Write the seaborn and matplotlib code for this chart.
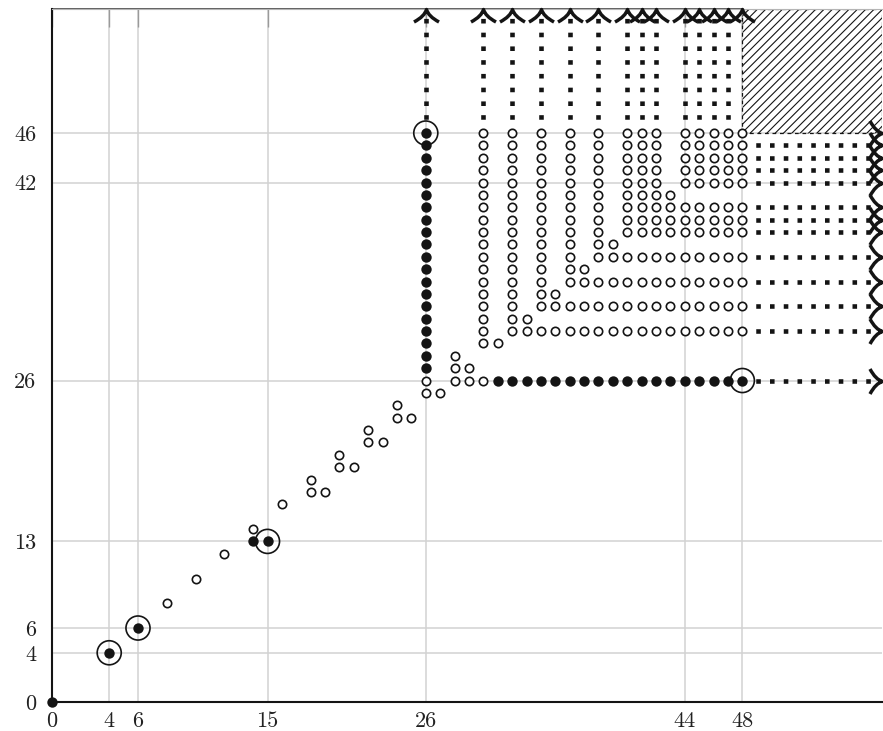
import numpy as np
import pandas as pd
import seaborn as sns
import matplotlib.pyplot as plt
from matplotlib.path import Path
from matplotlib.patches import Rectangle

# подписи осей
x_ticks = [0, 4, 6, 15, 26, 44, 48]
y_ticks = [0, 4, 6, 13, 26, 42, 46]
x_max, y_max = 57.7, 56.0

# закрашенные точки
filled_single = [(0, 0), (4, 4), (6, 6), (14, 13), (15, 13)]
filled_col = (26, 27, 46)   # x, y от, y до
filled_row = (26, 31, 48)   # y, x от, x до
ringed = [(4, 4), (6, 6), (15, 13), (26, 46), (48, 26)]

# пустые точки
open_single = [(8, 8), (10, 10), (12, 12), (14, 14), (16, 16),
               (18, 18), (18, 17), (19, 17), (20, 20), (20, 19), (21, 19),
               (22, 22), (22, 21), (23, 21), (24, 24), (24, 23), (25, 23),
               (26, 26), (26, 25), (27, 25), (28, 28), (28, 27), (29, 27),
               (28, 26), (29, 26), (30, 26),
               (31, 29), (33, 31), (35, 33), (37, 35), (39, 37), (43, 41)]
# столбцы: x, y от, y до
open_cols = [(30, 29, 46), (32, 30, 46), (34, 32, 46), (36, 34, 46),
             (38, 36, 46), (40, 38, 46), (41, 38, 46), (42, 38, 46),
             (44, 42, 46), (45, 42, 46), (46, 42, 46), (47, 42, 46),
             (48, 42, 46)]
# строки: y, x от, x до
open_rows = [(30, 33, 48), (32, 35, 48), (34, 37, 48), (36, 39, 48),
             (38, 43, 48), (39, 43, 48), (40, 43, 48)]

# пунктир со стрелками
up_x = [26, 30, 32, 34, 36, 38, 40, 41, 42, 44, 45, 46, 47]
right_y = [26, 30, 32, 34, 36, 38, 39, 40, 42, 43, 44, 45]
hatch_corner = (48, 46)

ink = '#141414'

# собираем таблицы точек
filled = list(filled_single)
filled += [(filled_col[0], y) for y in range(filled_col[1], filled_col[2] + 1)]
filled += [(x, filled_row[0]) for x in range(filled_row[1], filled_row[2] + 1)]
df_filled = pd.DataFrame(filled, columns=['x', 'y'])

empty = list(open_single)
for x, y0, y1 in open_cols:
    empty += [(x, y) for y in range(y0, y1 + 1)]
for y, x0, x1 in open_rows:
    empty += [(x, y) for x in range(x0, x1 + 1)]
df_open = pd.DataFrame(empty, columns=['x', 'y'])
df_ring = pd.DataFrame(ringed, columns=['x', 'y'])

sns.set_theme(style='white')
plt.rcParams['font.family'] = ['cmr10', 'DejaVu Serif']
plt.rcParams['hatch.linewidth'] = 0.8

fig = plt.figure(figsize=(8.83, 7.31), dpi=100)
ax = fig.add_axes([0.0585, 0.0393, 0.9403, 0.948])

# заштрихованная область
ax.add_patch(Rectangle(hatch_corner, x_max - hatch_corner[0], y_max - hatch_corner[1],
                       fill=False, hatch='////', edgecolor=ink, linewidth=0.9,
                       linestyle=(0, (3, 3)), zorder=1))

# пунктир из квадратиков
for x in up_x:
    ax.plot([x, x], [46, y_max], color=ink, linewidth=3.3, dashes=(1, 2.0),
            dash_capstyle='butt', zorder=2)
for y in right_y:
    ax.plot([48, x_max], [y, y], color=ink, linewidth=3.3, dashes=(1, 2.0),
            dash_capstyle='butt', zorder=2)

# наконечники стрелок
up_head = Path([(-1, -1.0), (-0.15, -0.55), (0, 0), (0.15, -0.55), (1, -1.0)],
               [Path.MOVETO, Path.CURVE3, Path.CURVE3, Path.CURVE3, Path.CURVE3])
right_head = Path([(-1.0, -1), (-0.55, -0.15), (0, 0), (-0.55, 0.15), (-1.0, 1)],
                  [Path.MOVETO, Path.CURVE3, Path.CURVE3, Path.CURVE3, Path.CURVE3])
ax.plot(up_x + [48], [y_max] * (len(up_x) + 1), ls='none', marker=up_head, ms=18,
        mfc='none', mec=ink, mew=2.5, clip_on=False, zorder=5)
ax.plot([x_max] * (len(right_y) + 1), right_y + [46], ls='none', marker=right_head, ms=18,
        mfc='none', mec=ink, mew=2.5, clip_on=False, zorder=5)

sns.scatterplot(data=df_open, x='x', y='y', s=36, color=ink, facecolor='white',
                edgecolor=ink, linewidth=1.2, clip_on=False, zorder=3, ax=ax)
sns.scatterplot(data=df_filled, x='x', y='y', s=56, color=ink, linewidth=0,
                clip_on=False, zorder=4, ax=ax)
sns.scatterplot(data=df_ring, x='x', y='y', s=300, color=ink, facecolor='none',
                edgecolor=ink, linewidth=1.2, clip_on=False, zorder=4, ax=ax)

ax.set_xlim(0, x_max)
ax.set_ylim(0, y_max)
ax.set_xticks(x_ticks)
ax.set_yticks(y_ticks)
ax.set_xticklabels([str(v) for v in x_ticks])
ax.set_yticklabels([str(v) for v in y_ticks])
ax.set_xlabel('')
ax.set_ylabel('')
ax.grid(True, color='#d2d2d2', linewidth=1.1)
ax.set_axisbelow(True)
ax.tick_params(direction='in', length=13, width=1, color='#9a9a9a', top=True,
               labelsize=16, labelcolor='#222222')
ax.tick_params(axis='x', pad=6.5)
ax.tick_params(axis='y', pad=11)

for side in ['left', 'bottom']:
    ax.spines[side].set_color(ink)
    ax.spines[side].set_linewidth(1.5)
ax.spines['right'].set_visible(False)
ax.spines['top'].set_color('#b5b5b5')
ax.spines['top'].set_linewidth(0.8)
ax.plot([0, 48], [y_max, y_max], color='#333333', linewidth=1.1, clip_on=False, zorder=2)

fig.savefig('out.png', dpi=100)
